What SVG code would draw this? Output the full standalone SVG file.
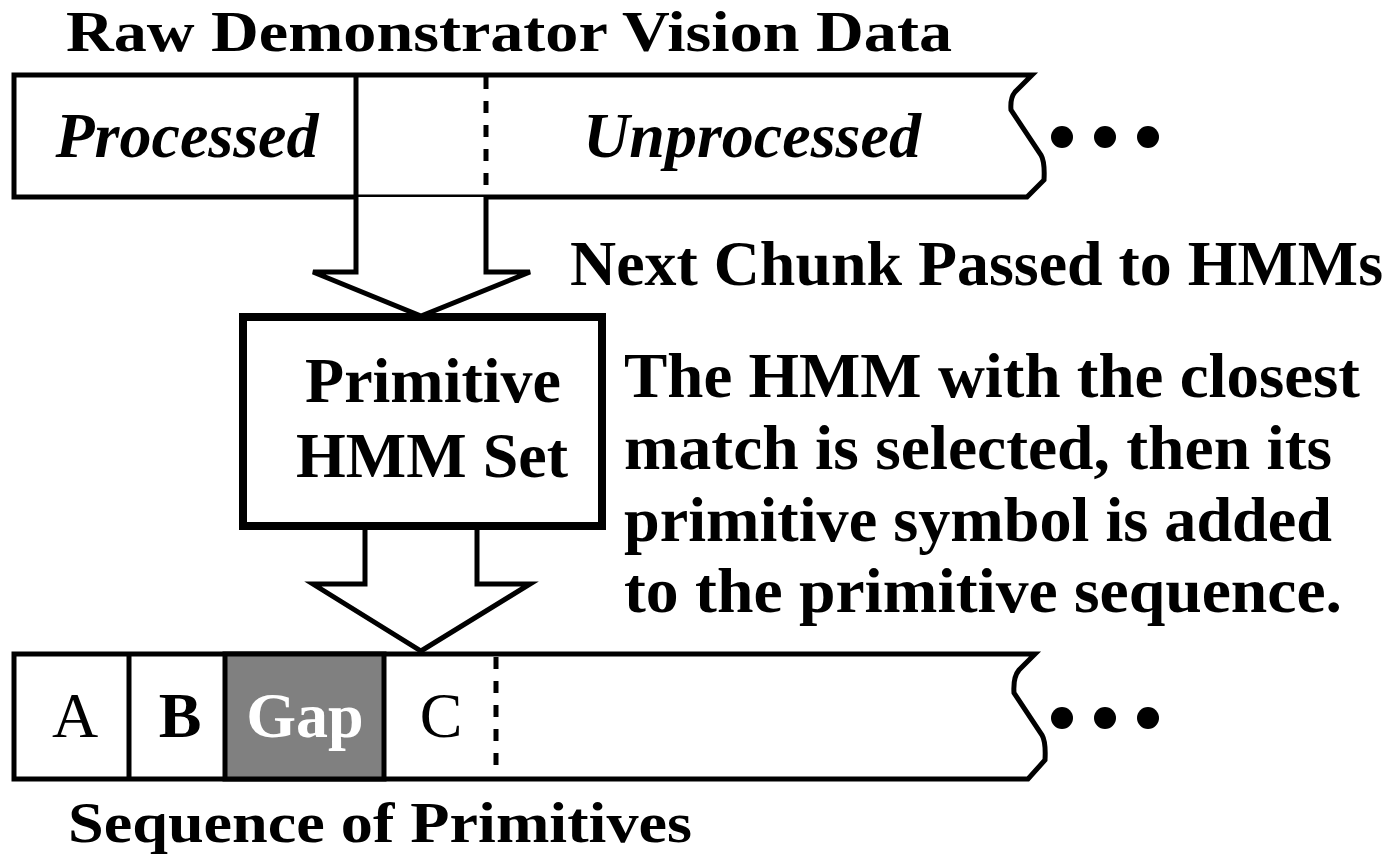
<svg xmlns="http://www.w3.org/2000/svg" width="1392" height="856" viewBox="0 0 1392 856">
<style>
.t{font-family:"Liberation Serif","Times New Roman",serif;font-weight:bold;fill:#000}
.it{font-style:italic}
.reg{font-weight:normal}
.ln{stroke:#000;stroke-width:5;fill:none}
.bar{stroke:#000;stroke-width:5;fill:#fff;stroke-linejoin:miter}
.dash{stroke:#000;stroke-width:5;stroke-dasharray:12 12;fill:none}
.arrow{stroke:#000;stroke-width:5;fill:#fff;stroke-linejoin:miter}
</style>
<rect width="1392" height="856" fill="#fff"/>

<g id="title">
<text class="t" x="66" y="51" font-size="58" textLength="886" lengthAdjust="spacingAndGlyphs">Raw Demonstrator Vision Data</text>
</g>

<g id="raw-data-bar">
<path class="bar" d="M14,75 H1032 L1015,92 Q1010,98 1011,110 L1041,155 Q1045,162 1044,180 L1027,197 H14 Z"/>
<line class="ln" x1="356" y1="75" x2="356" y2="197"/>
<line class="dash" x1="486" y1="77" x2="486" y2="187"/>
<text class="t it" x="187" y="157" font-size="64" text-anchor="middle">Processed</text>
<text class="t it" x="752" y="157" font-size="64" text-anchor="middle">Unprocessed</text>
<circle cx="1062" cy="137" r="11"/>
<circle cx="1105" cy="137" r="11"/>
<circle cx="1148" cy="137" r="11"/>
</g>

<g id="next-chunk-label">
<text class="t" x="570" y="285" font-size="64" textLength="813" lengthAdjust="spacingAndGlyphs">Next Chunk Passed to HMMs</text>
</g>

<g id="hmm-set">
<rect x="243" y="317" width="359" height="209" fill="#fff" stroke="#000" stroke-width="8"/>
<text class="t" x="433" y="402" font-size="64" text-anchor="middle">Primitive</text>
<text class="t" x="432" y="477" font-size="64" text-anchor="middle">HMM Set</text>
</g>

<g id="description">
<text class="t" x="624" y="397" font-size="64" textLength="736" lengthAdjust="spacingAndGlyphs">The HMM with the closest</text>
<text class="t" x="624" y="469" font-size="64" textLength="708" lengthAdjust="spacingAndGlyphs">match is selected, then its</text>
<text class="t" x="624" y="541" font-size="64" textLength="708" lengthAdjust="spacingAndGlyphs">primitive symbol is added</text>
<text class="t" x="624" y="612" font-size="64" textLength="718" lengthAdjust="spacingAndGlyphs">to the primitive sequence.</text>
</g>

<g id="sequence-bar">
<path class="bar" d="M14,654 H1035 L1019,670 Q1013,677 1014,693 L1042,735 Q1046,742 1045,760 L1028,779 H14 Z"/>
<rect x="225" y="654" width="159" height="125" fill="#808080" stroke="#000" stroke-width="5"/>
<line class="ln" x1="129" y1="654" x2="129" y2="779"/>
<line class="dash" x1="496" y1="657" x2="496" y2="772"/>
<text class="t reg" x="75" y="737" font-size="64" text-anchor="middle">A</text>
<text class="t" x="180" y="737" font-size="64" text-anchor="middle">B</text>
<text class="t" x="305" y="737" font-size="64" text-anchor="middle" style="fill:#fff">Gap</text>
<text class="t reg" x="441" y="737" font-size="64" text-anchor="middle">C</text>
<circle cx="1062" cy="718" r="11"/>
<circle cx="1105" cy="718" r="11"/>
<circle cx="1148" cy="718" r="11"/>
</g>

<g id="sequence-label">
<text class="t" x="68" y="842" font-size="57" textLength="624" lengthAdjust="spacingAndGlyphs">Sequence of Primitives</text>
</g>

<g id="connectors">
<path class="arrow" d="M356,197 V272 H313 L421,316 L530,272 H486 V197"/>
<path class="arrow" d="M365,530 V584 H313 L421,651 L530,584 H477 V530"/>
</g>
</svg>
